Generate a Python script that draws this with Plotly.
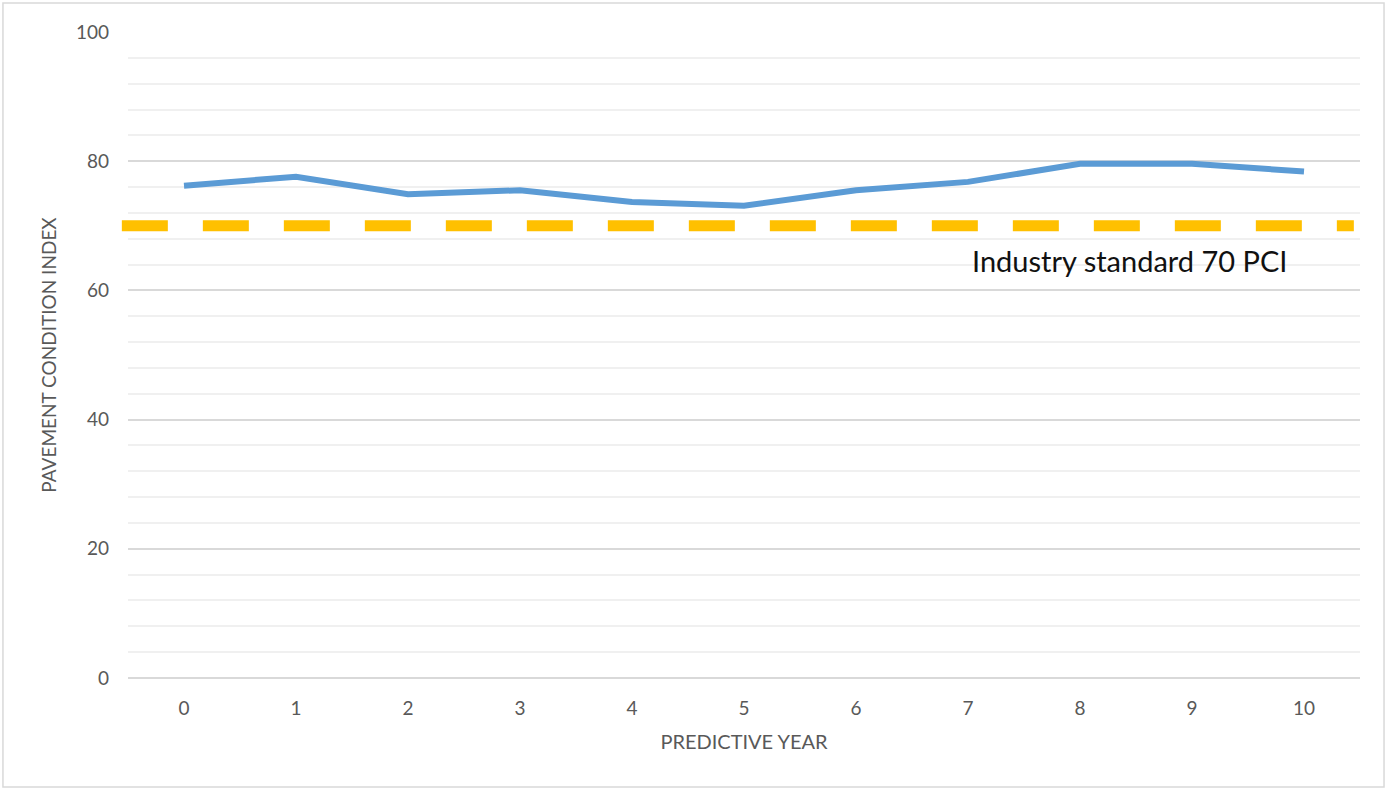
import plotly.graph_objects as go

# Predictive years and forecast pavement condition index
years = [0, 1, 2, 3, 4, 5, 6, 7, 8, 9, 10]
pci = [76.2, 77.6, 74.9, 75.5, 73.7, 73.1, 75.5, 76.8, 79.6, 79.6, 78.4]
standard_pci = 70
standard_label = "Industry standard 70 PCI"

FONT = "Lato, 'Open Sans', sans-serif"
GRAY = "#595959"

fig = go.Figure()

fig.add_trace(go.Scatter(
    x=years, y=pci, mode="lines",
    line=dict(color="#5b9bd5", width=6),
    showlegend=False, hoverinfo="x+y",
))

# Industry standard threshold, dashed across the plot
fig.add_shape(
    type="line", xref="paper", yref="y",
    x0=-0.005, x1=0.995, y0=standard_pci, y1=standard_pci,
    line=dict(color="#ffc000", width=11, dash="46px,35px"),
    layer="above",
)

fig.add_annotation(
    x=8.45, y=standard_pci - 5.4, xref="x", yref="y",
    text=standard_label, showarrow=False,
    font=dict(family=FONT, size=29, color="#111111"),
    xanchor="center", yanchor="middle",
)

# Light outer frame around the whole chart
fig.add_shape(
    type="rect", xref="paper", yref="paper",
    x0=-0.1015, x1=1.0195, y0=-0.1687, y1=1.0449,
    line=dict(color="#d9d9d9", width=1.5), fillcolor="rgba(0,0,0,0)",
    layer="below",
)

fig.update_layout(
    width=1390, height=790,
    margin=dict(l=128, r=30, t=32, b=112),
    paper_bgcolor="white", plot_bgcolor="white",
    font=dict(family=FONT, color=GRAY),
    xaxis=dict(
        range=[-0.5, 10.5], tickmode="array", tickvals=years,
        ticktext=[str(y) for y in years],
        showgrid=False, zeroline=False, showline=False,
        tickfont=dict(size=19, color=GRAY),
        ticklabelstandoff=17,
        title=dict(text="PREDICTIVE YEAR", font=dict(size=20, color=GRAY), standoff=16),
    ),
    yaxis=dict(
        range=[0, 100], dtick=20,
        showgrid=True, gridcolor="#d9d9d9", gridwidth=1.5,
        zeroline=True, zerolinecolor="#d9d9d9", zerolinewidth=1.5,
        showline=False,
        minor=dict(dtick=4, showgrid=True, gridcolor="#f0f0f0", gridwidth=1.5),
        tickfont=dict(size=19, color=GRAY),
        ticklabelstandoff=18,
        title=dict(text="PAVEMENT CONDITION INDEX", font=dict(size=19, color=GRAY), standoff=14),
    ),
)

fig.write_html("out.html")
